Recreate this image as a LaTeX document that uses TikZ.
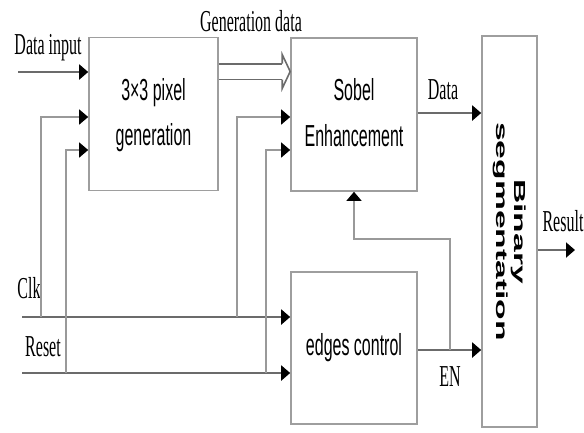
\documentclass[tikz,border=0pt]{standalone}
\usepackage{fontspec}
\setmainfont{Liberation Serif}
\setsansfont{Liberation Sans}
\usepackage{tikz}
\usetikzlibrary{arrows.meta, positioning, calc}
\newcommand{\tall}[1]{\scalebox{1}[1.9]{#1}}
\definecolor{wiregray}{gray}{0.42}
\definecolor{boxgray}{gray}{0.62}
\definecolor{tapgray}{gray}{0.6}

\begin{document}
\begin{tikzpicture}[x=1pt, y=-1pt]
    % Define styles
    \tikzstyle{block} = [rectangle, draw=boxgray, line width=1.6pt, inner sep=0pt, align=center, font=\sffamily\fontsize{16}{24}\selectfont]
    \tikzstyle{lbl} = [inner sep=0pt, font=\fontsize{16}{18}\selectfont]
    \tikzstyle{wire} = [draw=wiregray, line width=2pt, -{Triangle[length=9pt, width=15pt, color=black]}]
    \tikzstyle{tap} = [draw=tapgray, line width=1.2pt, -{Triangle[length=9pt, width=15pt, color=black]}]
    \tikzstyle{gendata} = [draw=wiregray, line width=1.8pt, double=white, double distance=14pt]
    \tikzstyle{genhd} = [draw=wiregray, line width=1.6pt, line join=miter]

    \useasboundingbox (0,0) rectangle (584,432);

    % Blocks
    \node[block, minimum width=129pt, minimum height=153pt] (pixgen) at (153.5,114) {\tall{\begin{tabular}{@{}c@{}}3×3 pixel\\generation\end{tabular}}};
    \node[block, minimum width=126pt, minimum height=153pt] (sobel) at (354,114.5) {\tall{\begin{tabular}{@{}c@{}}Sobel\\Enhancement\end{tabular}}};
    \node[block, minimum width=126pt, minimum height=152pt] (edgectl) at (354,348) {\tall{edges control}};
    \node[block, rotate=-90, minimum width=391pt, minimum height=55pt, font=\sffamily\bfseries\fontsize{16}{18}\selectfont] (binseg) at (509.5,231.5) {\scalebox{2.1}[1]{\begin{tabular}{@{}c@{}}Binary\\segmentation\end{tabular}}};

    % Inputs
    \coordinate (datain) at (18,72);
    \coordinate (clkin) at (22,317);
    \coordinate (rstin) at (22,373);
    \coordinate (tapA) at (41,117);
    \coordinate (tapB) at (66,150);
    \coordinate (tapC) at (237,117);
    \coordinate (tapD) at (266,150);
    \coordinate (fb) at (450,350);
    \coordinate (resout) at (575,250);
    \coordinate (genhead) at (sobel.west |- 0,71.5);

    % Labels
    \node[lbl] (lblin) at (48,48) {\tall{Data input}};
    \node[lbl] (lblgen) at (251,21) {\tall{Generation data}};
    \node[lbl] (lbldata) at (443,90) {\tall{Data}};
    \node[lbl] (lblclk) at (29,288) {\tall{Clk}};
    \node[lbl] (lblrst) at (43,347) {\tall{Reset}};
    \node[lbl] (lblen) at (450,377) {\tall{EN}};
    \node[lbl] (lblres) at (563,221) {\tall{Result}};

    % Arrows
    \draw[wire] (datain) -- (datain -| pixgen.west);
    \draw[wire] (clkin) -- (clkin -| edgectl.west);
    \draw[wire] (rstin) -- (rstin -| edgectl.west);
    \draw[tap] (tapA |- clkin) -- (tapA) -- (tapA -| pixgen.west);
    \draw[tap] (tapB |- rstin) -- (tapB) -- (tapB -| pixgen.west);
    \draw[tap] (tapC |- clkin) -- (tapC) -- (tapC -| sobel.west);
    \draw[tap] (tapD |- rstin) -- (tapD) -- (tapD -| sobel.west);
    \draw[gendata] (pixgen.east |- genhead) -- ([xshift=-8pt]genhead);
    \draw[genhd] ([shift={(-8pt,8pt)}]genhead) -- ++(0pt,9pt) -- (genhead) -- ++(-8pt,-17pt) -- ++(0pt,9pt);
    \draw[wire] (sobel.east |- 0,113) -- (binseg.south |- 0,113);
    \draw[wire] (edgectl.east |- fb) -- (binseg.south |- fb);
    \draw[tap] (fb) |- (sobel.south |- 0,239) -- (sobel.south);
    \draw[wire] (binseg.north |- resout) -- (resout);

\end{tikzpicture}
\end{document}
